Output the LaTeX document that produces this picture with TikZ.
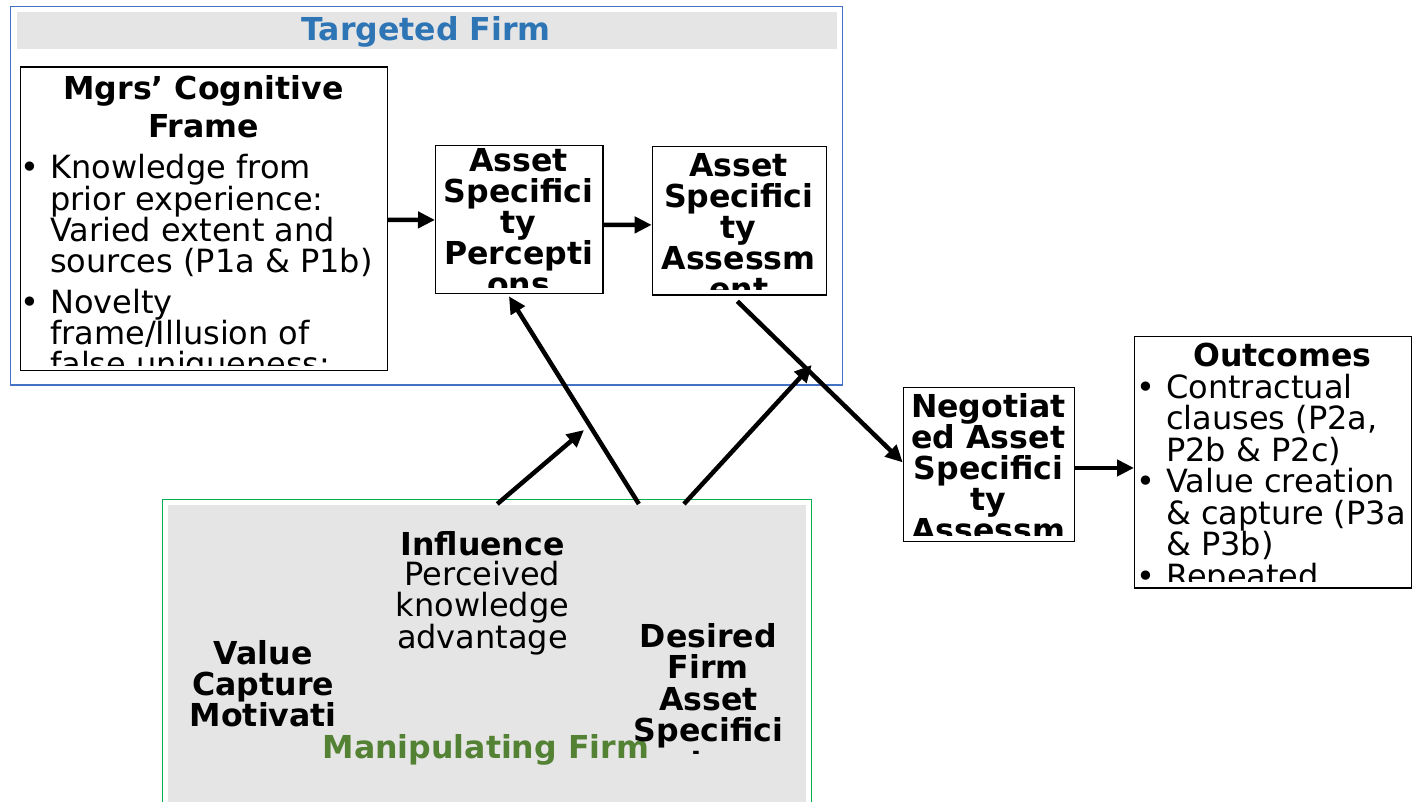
\documentclass[tikz,border=0pt]{standalone}
\usepackage{fontspec}
\setmainfont{DejaVu Sans}
\usetikzlibrary{arrows.meta}
\definecolor{tblue}{HTML}{2E75B6}
\definecolor{bblue}{HTML}{4472C4}
\definecolor{ggreen}{HTML}{00B050}
\definecolor{tgreen}{HTML}{548235}
\definecolor{hgray}{HTML}{E5E5E5}
\begin{document}
\begin{tikzpicture}[x=1pt,y=-1pt,
  box/.style={draw=black, line width=1.3pt, fill=white, inner sep=0pt, anchor=north west},
  frame/.style={line width=1.2pt, inner sep=0pt, anchor=north west},
  t/.style={inner sep=0pt, align=center, font=\fontsize{32}{31}\selectfont},
  tb/.style={inner sep=0pt, align=center, font=\fontsize{31.6}{31}\selectfont\bfseries},
  arr/.style={line width=4.5pt, -{Triangle[length=17pt,width=16pt]}}
]
\clip (0,0) rectangle (1412,802);
\fill[white] (0,0) rectangle (1412,802);

% ---------- Targeted firm ----------
\node[frame, draw=bblue, minimum width=831.7pt, minimum height=378.6pt] (tfirm) at (10,5.7) {};
\node[frame, fill=hgray, minimum width=820pt, minimum height=37.7pt] (thead) at (16,11) {};
\node[tb, text=tblue, anchor=base] (ttitle) at (426,40.7) {Targeted Firm};

% Mgrs' cognitive frame (base anchor = last line)
\node[box, minimum width=366.7pt, minimum height=303.7pt] (mgrs) at (20,66.3) {};
\begin{scope}
\clip (20,66.3) rectangle (386.7,365);
\node[tb, anchor=base, font=\fontsize{31.6}{37.3}\selectfont\bfseries] (mgrsT) at (203.5,137.3) {Mgrs’ Cognitive\\Frame};
\node[t, anchor=base] (mb1) at (30,179) {•};
\node[t, anchor=base west, align=left] (mgrsA) at (50,272) {Knowledge from\\prior experience:\\Varied extent and\\sources (P1a \& P1b)};
\node[t, anchor=base] (mb2) at (30,313.3) {•};
\node[t, anchor=base west, align=left] (mgrsB) at (50,375.3) {Novelty\\frame/Illusion of\\false uniqueness:};
\end{scope}

% Asset specificity perceptions
\node[box, minimum width=167.3pt, minimum height=148pt] (perc) at (435,144.7) {};
\begin{scope}
\clip (435,144.7) rectangle (602.3,287);
\node[tb, anchor=base] (percT) at (518.6,295) {Asset\\Specifici\\ty\\Percepti\\ons};
\end{scope}

% Asset specificity assessment
\node[box, minimum width=174pt, minimum height=148.3pt] (assess) at (651.7,146) {};
\begin{scope}
\clip (651.7,146) rectangle (825.7,289);
\node[tb, anchor=base] (assessT) at (738.7,300.5) {Asset\\Specifici\\ty\\Assessm\\ent};
\end{scope}

% Negotiated asset specificity assessment
\node[box, minimum width=171.3pt, minimum height=154.3pt] (neg) at (902.7,386.7) {};
\begin{scope}
\clip (902.7,386.7) rectangle (1074,535);
\node[tb, anchor=base] (negT) at (988.3,572.3) {Negotiat\\ed Asset\\Specifici\\ty\\Assessm\\ent};
\end{scope}

% Outcomes
\node[box, minimum width=277pt, minimum height=251.3pt] (outc) at (1134,336) {};
\begin{scope}
\clip (1134,336) rectangle (1411,581.7);
\node[tb, anchor=base] (outcT) at (1282.5,366) {Outcomes};
\node[t, anchor=base] (ob1) at (1146,398) {•};
\node[t, anchor=base] (ob2) at (1146,492.5) {•};
\node[t, anchor=base] (ob3) at (1146,587) {•};
\node[t, anchor=base west, align=left, font=\fontsize{32}{31.5}\selectfont] (outcA) at (1166,587) {Contractual\\clauses (P2a,\\P2b \& P2c)\\Value creation\\\& capture (P3a\\\& P3b)\\Repeated};
\end{scope}

% ---------- Manipulating firm ----------
\node[frame, draw=ggreen, minimum width=649.3pt, minimum height=330pt] (mfirm) at (161.7,499) {};
\node[frame, fill=hgray, minimum width=637.7pt, minimum height=300pt] (mfill) at (167.3,504) {};
\node[tb, anchor=base] (infl) at (482.5,555) {Influence};
\node[t, anchor=base, font=\fontsize{32}{30.7}\selectfont] (perck) at (482.5,648.1) {Perceived\\knowledge\\advantage};
\begin{scope}
\clip (168,504) rectangle (400,735);
\node[tb, anchor=base, font=\fontsize{31.6}{30.85}\selectfont\bfseries] (vcm) at (263.3,757.5) {Value\\Capture\\Motivati\\on};
\end{scope}
\node[tb, text=tgreen, anchor=base] (mtitle) at (485.8,758.3) {Manipulating Firm};
\begin{scope}
\clip (600,504) rectangle (805,753.8);
\node[tb, anchor=base, font=\fontsize{31.6}{31.5}\selectfont\bfseries] (dfa) at (708.3,773.3) {Desired\\Firm\\Asset\\Specifici\\ty};
\end{scope}

% ---------- Connectors ----------
\coordinate (a6end) at (584,430);
\coordinate (a7end) at (811.7,365);
\draw[arr] ([yshift=-1pt]mgrs.east) -- ([yshift=-0.6pt]perc.west);
\draw[arr] ([yshift=-5.6pt]perc.east) -- ([yshift=-4.1pt]assess.west);
\draw[arr] ([xshift=-2pt,yshift=-5.7pt]assess.south) -- ([yshift=2.1pt]neg.west);
\draw[arr] ([yshift=-3.45pt]neg.east) -- ([yshift=-5.65pt]outc.west);
\draw[arr] ([xshift=152.1pt]mfill.north) -- ([xshift=-10.35pt,yshift=-2.3pt]perc.south);
\draw[arr] ([xshift=10.5pt]mfill.north) -- (a6end);
\draw[arr] ([xshift=197.2pt]mfill.north) -- (a7end);
\end{tikzpicture}
\end{document}
